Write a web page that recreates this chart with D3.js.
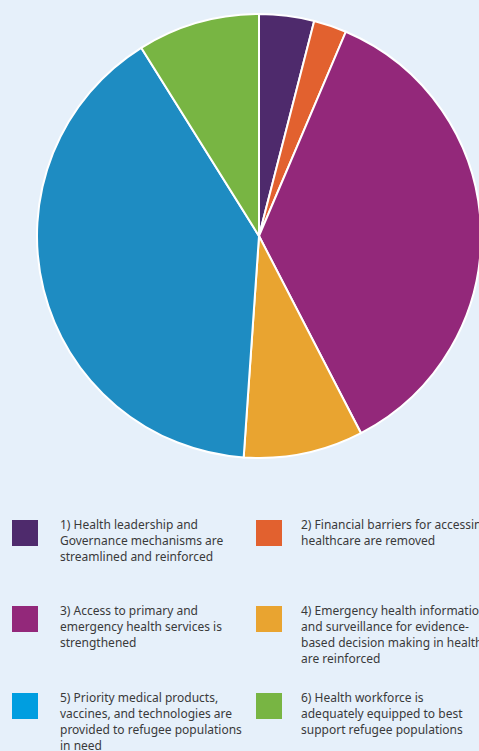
<!DOCTYPE html>
<html>
<head>
<meta charset="utf-8">
<script src="https://cdn.jsdelivr.net/npm/d3@7"></script>
<style>
  html, body { margin: 0; padding: 0; background: #e6f0fa; }
  svg { display: block; }
  text { font-family: "Noto Sans", sans-serif; font-size: 12px; fill: #3a3a3a; }
</style>
</head>
<body>
<div id="chart"></div>
<script>
var categories = [
  ['1) Health leadership and', 'Governance mechanisms are', 'streamlined and reinforced'],
  ['2) Financial barriers for accessing', 'healthcare are removed'],
  ['3) Access to primary and', 'emergency health services is', 'strengthened'],
  ['4) Emergency health information', 'and surveillance for evidence-', 'based decision making in health', 'are reinforced'],
  ['5) Priority medical products,', 'vaccines, and technologies are', 'provided to refugee populations', 'in need'],
  ['6) Health workforce is', 'adequately equipped to best', 'support refugee populations']
];
var values = [4, 2.4, 36, 8.7, 40, 8.9];
var sliceColors = ['#4e2a6c', '#e2612f', '#93287a', '#e9a430', '#1e8cc2', '#78b543'];
var swatchColors = ['#4e2a6c', '#e2612f', '#93287a', '#e9a430', '#009ee0', '#78b543'];

var W = 479, H = 751,
    CX = 259, CY = 236, R = 222;

var svg = d3.select('#chart')
  .append('svg')
  .attr('width', W)
  .attr('height', H);

svg.append('rect').attr('width', W).attr('height', H).attr('fill', '#e6f0fa');

var pie = d3.pie().sort(null).value(function(d) { return d; });
var arc = d3.arc().innerRadius(0).outerRadius(R);

svg.append('g')
  .attr('transform', 'translate(' + CX + ',' + CY + ')')
  .selectAll('path')
  .data(pie(values))
  .enter()
  .append('path')
  .attr('d', arc)
  .attr('fill', function(d, i) { return sliceColors[i]; })
  .attr('stroke', '#ffffff')
  .attr('stroke-width', 2);

// legend: two columns, three rows
var colX = [12, 256], textX = [60, 301],
    rowY = [520, 606, 693], LINE = 16;

var items = svg.selectAll('g.item')
  .data(categories)
  .enter()
  .append('g')
  .attr('class', 'item')
  .attr('transform', function(d, i) {
    return 'translate(0,' + rowY[Math.floor(i / 2)] + ')';
  });

items.append('rect')
  .attr('x', function(d, i) { return colX[i % 2]; })
  .attr('y', 0)
  .attr('width', 26)
  .attr('height', 26)
  .attr('fill', function(d, i) { return swatchColors[i]; });

items.append('text')
  .attr('x', function(d, i) { return textX[i % 2]; })
  .attr('y', 9)
  .each(function(lines, i) {
    var t = d3.select(this);
    lines.forEach(function(line, j) {
      t.append('tspan')
        .attr('x', textX[i % 2])
        .attr('dy', j === 0 ? 0 : LINE)
        .text(line);
    });
  });
</script>
</body>
</html>
